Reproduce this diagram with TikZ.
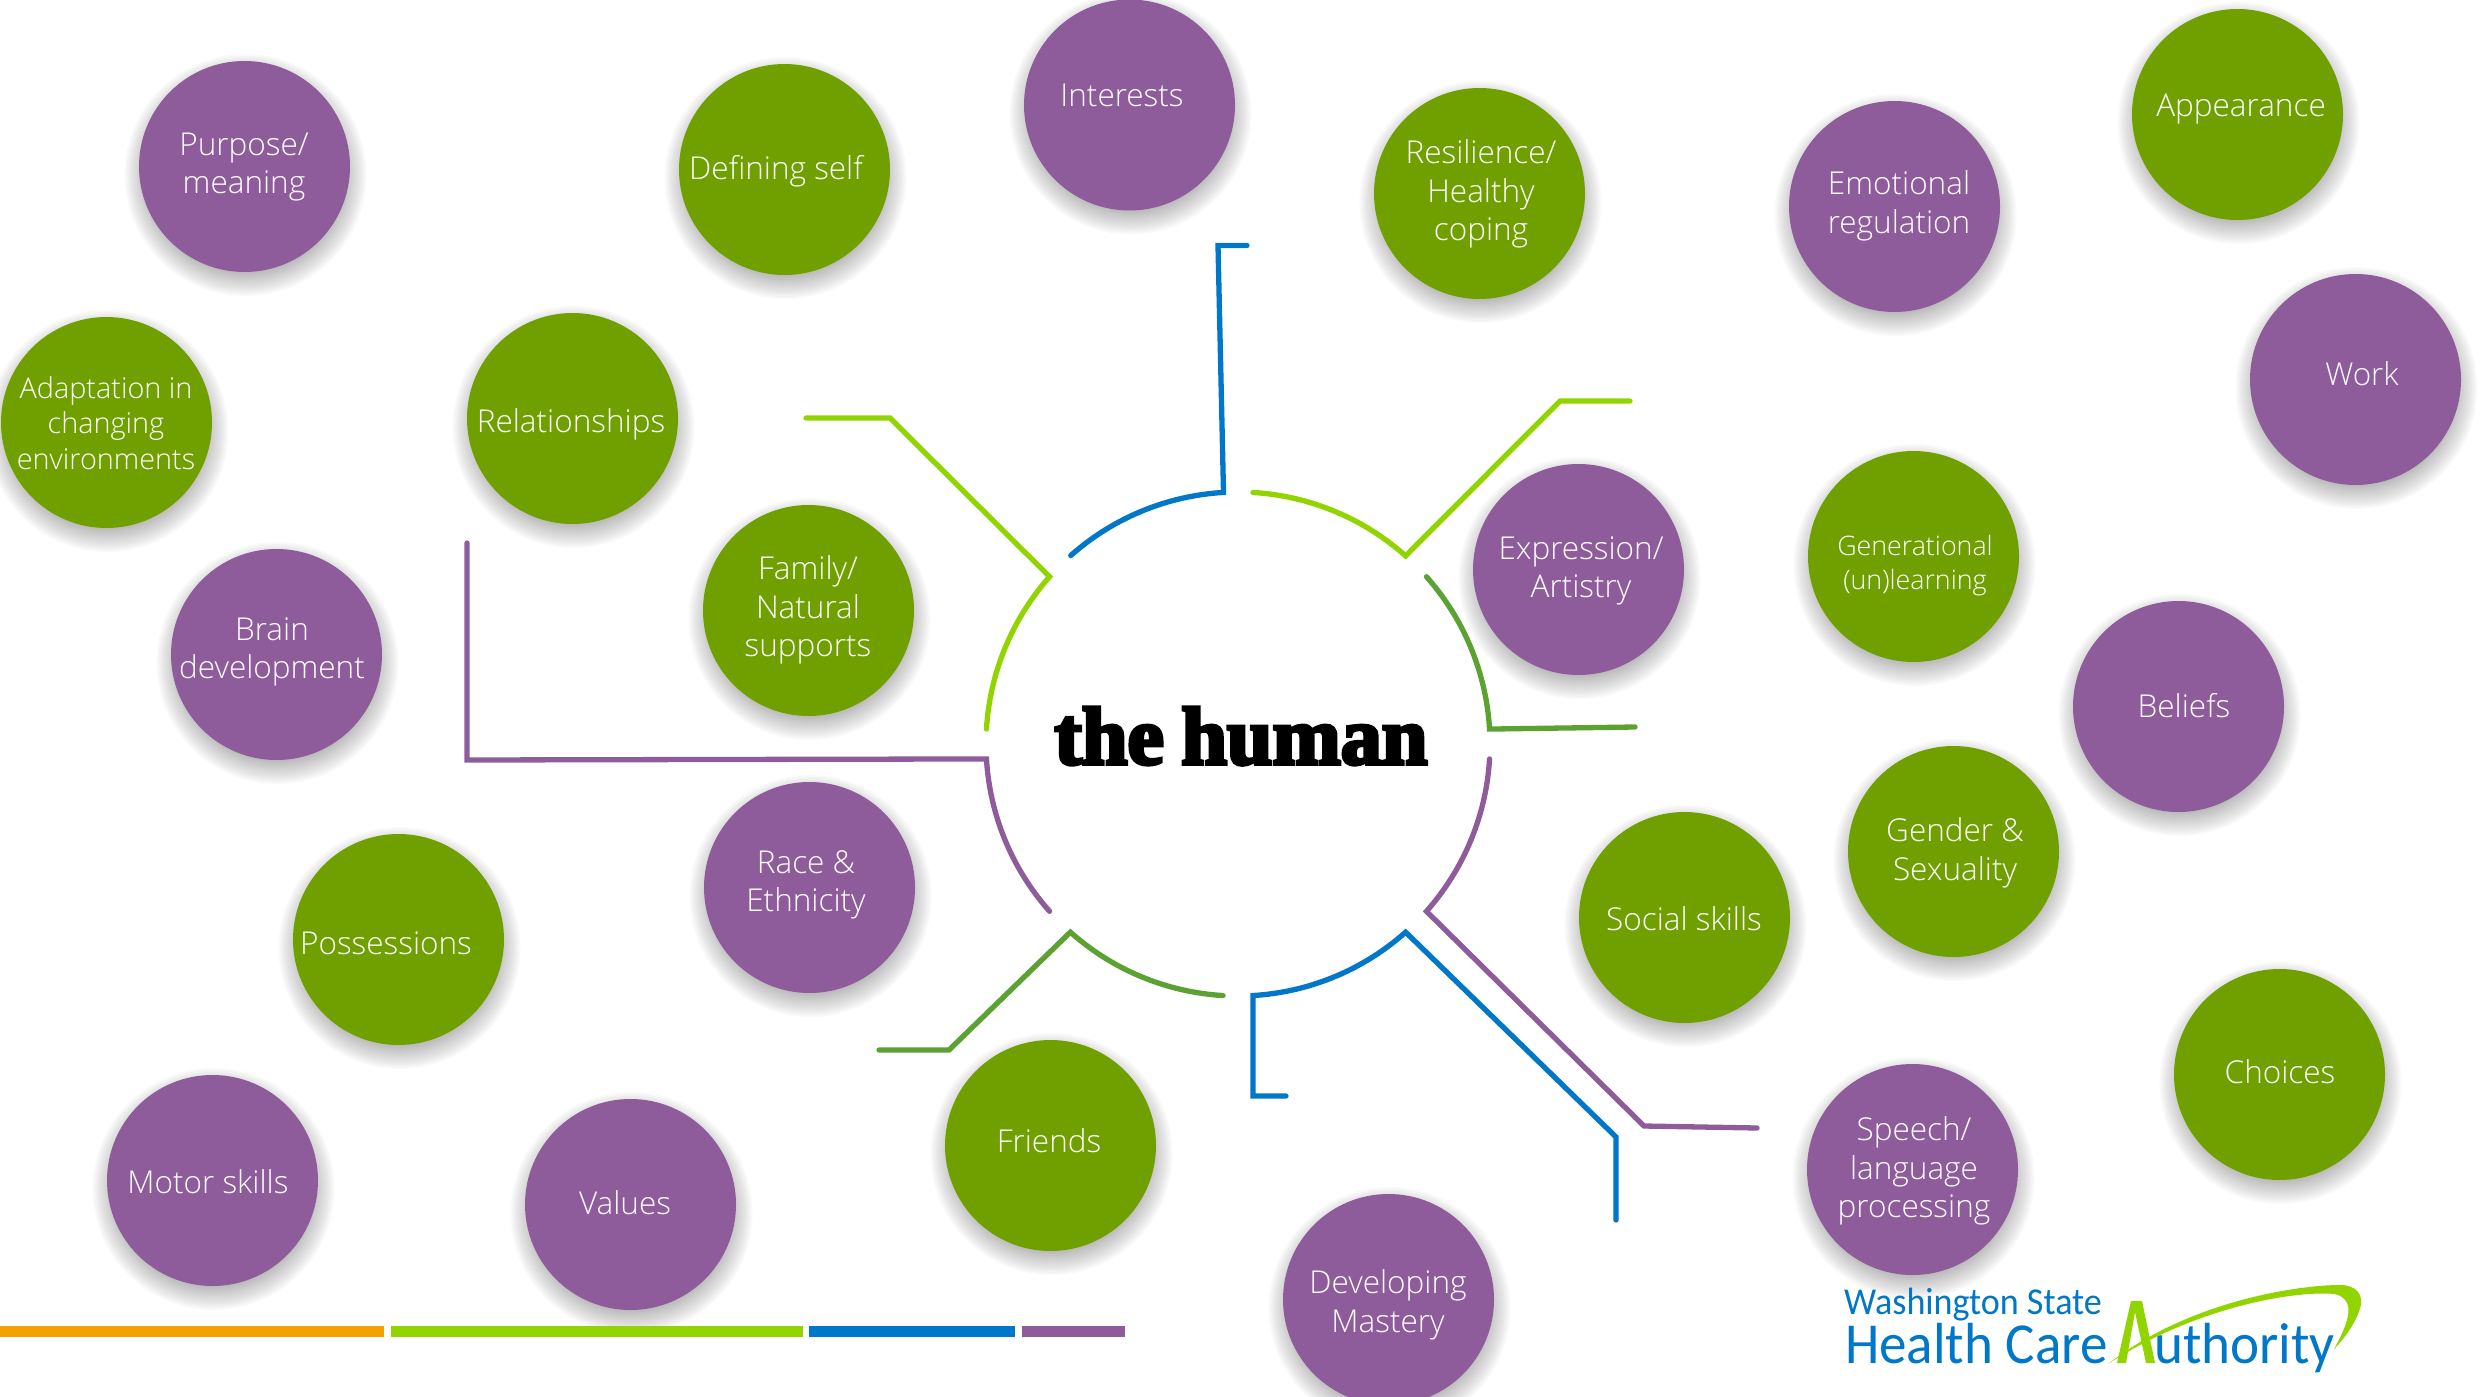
\documentclass[tikz,border=0pt]{standalone}
\usepackage{fontspec}
\setmainfont{Open Sans Light}
\newfontfamily\logofont{Carlito}
\newfontfamily\humanfont[FakeBold=4.5]{Liberation Serif Bold}
\usetikzlibrary{calc}
\definecolor{bgreen}{HTML}{70A000}
\definecolor{bpurple}{HTML}{8F5C9B}
\definecolor{lgreen}{HTML}{92D400}
\definecolor{dgreen}{HTML}{5BA232}
\definecolor{hblue}{HTML}{0077C8}
\definecolor{horange}{HTML}{F2A100}
\tikzset{
  bubble/.style={circle,draw=none,inner sep=0pt,minimum size=211pt,text=white},
  lbl/.style={text=white,align=center,inner sep=0pt,font=\fontsize{31.5}{38.5}\selectfont},
  arm/.style={line width=5.3pt,line cap=round,line join=miter},
  barr/.style={draw=none,minimum height=11pt,inner sep=0pt,anchor=west},
  logotext/.style={text=hblue,inner sep=0pt,anchor=base west,xscale=0.95},
}
\newcommand{\bub}[8][]{%
  \foreach \k in {0,...,17}{%
    \fill[black,opacity=0.024] (#4+1.5,#5+9) circle[radius={121-1.9*\k}];%
  }%
  \node[bubble,fill=#3] (#2) at (#4+0.5,#5+0.5) {};%
  \node[lbl,#1] (#2-t) at (#6,#7) {#8};%
}
\begin{document}
\begin{tikzpicture}[x=1pt,y=-1pt]
\useasboundingbox (0,0) rectangle (2484,1397);
\bub{purpose}{bpurple}{244}{166}{244}{167}{Purpose/\\meaning}
\bub{defining}{bgreen}{784}{169}{776}{171}{Defining self}
\bub{interests}{bpurple}{1129}{104.5}{1122}{95}{Interests}
\bub{resilience}{bgreen}{1479}{193}{1481}{194}{Resilience/\\Healthy\\coping}
\bub{emotional}{bpurple}{1894}{206}{1899}{206}{Emotional\\regulation}
\bub{appearance}{bgreen}{2237}{114}{2241}{109}{Appearance}
\bub{work}{bpurple}{2355}{379}{2362}{374}{Work}
\bub[font=\fontsize{28.8}{35.5}\selectfont]{adaptation}{bgreen}{106}{422}{106}{423}{Adaptation in\\changing\\environments}
\bub{relationships}{bgreen}{572}{418}{571}{424}{Relationships}
\bub{family}{bgreen}{808}{610}{808}{610}{Family/\\Natural\\supports}
\bub{expression}{bpurple}{1578}{569}{1581}{571}{Expression/\\Artistry}
\bub[font=\fontsize{26.8}{34}\selectfont]{generational}{bgreen}{1913}{556}{1915}{566}{Generational\\(un)learning}
\bub{beliefs}{bpurple}{2178}{706}{2184}{706}{Beliefs}
\bub{brain}{bpurple}{276}{654}{272}{652}{Brain\\development}
\bub{race}{bpurple}{809}{887}{806}{885}{Race \&\\Ethnicity}
\bub{gender}{bgreen}{1953}{851}{1955}{853}{Gender \&\\Sexuality}
\bub{social}{bgreen}{1684}{917}{1684}{919}{Social skills}
\bub{possessions}{bgreen}{398}{939}{386}{943}{Possessions}
\bub{friends}{bgreen}{1050}{1145}{1049}{1141}{Friends}
\bub{choices}{bgreen}{2279}{1074}{2280}{1072}{Choices}
\bub{speech}{bpurple}{1912}{1169}{1914}{1171}{Speech/\\language\\processing}
\bub{motor}{bpurple}{212}{1180}{208}{1182}{Motor skills}
\bub{values}{bpurple}{630}{1204}{625}{1203}{Values}
\bub{developing}{bpurple}{1388}{1299}{1388}{1305}{Developing\\Mastery}

\coordinate (hc) at (1238,744);
\node[inner sep=0pt,text=black,anchor=base] (title) at (1241,764) {\humanfont\fontsize{82}{88}\selectfont the\hspace{-3pt} human};

\coordinate (b1) at (1218,245.5); \coordinate (b2) at (1247,245.5);
\draw[arm,hblue] ([shift={(-131.6:252)}]hc) arc[start angle=-131.6,end angle=-93.3,radius=252] -- (b1) -- (b2);
\coordinate (g1) at (1560,401); \coordinate (g2) at (1630,401);
\draw[arm,lgreen] ([shift={(-86.6:252)}]hc) arc[start angle=-86.6,end angle=-48.3,radius=252] -- (g1) -- (g2);
\coordinate (d1) at (1635,727);
\draw[arm,dgreen] ([shift={(-41.6:252)}]hc) arc[start angle=-41.6,end angle=-3.4,radius=252] -- (d1);
\coordinate (p1) at (1644,1126); \coordinate (p2) at (1757,1128);
\draw[arm,bpurple] ([shift={(3.4:252)}]hc) arc[start angle=3.4,end angle=41.6,radius=252] -- (p1) -- (p2);
\coordinate (u1) at (1616,1137); \coordinate (u2) at (1616,1220);
\draw[arm,hblue] (u2) -- (u1) -- ([shift={(48.3:252)}]hc) arc[start angle=48.3,end angle=86.6,radius=252] -- (1253,1096) coordinate (u3) -- (1286,1096) coordinate (u4);
\coordinate (e1) at (949,1050); \coordinate (e2) at (879,1050);
\draw[arm,dgreen] ([shift={(93.4:252)}]hc) arc[start angle=93.4,end angle=131.7,radius=252] -- (e1) -- (e2);
\coordinate (r1) at (467,760); \coordinate (r2) at (467,543);
\draw[arm,bpurple] ([shift={(138.4:252)}]hc) arc[start angle=138.4,end angle=176.6,radius=252] -- (r1) -- (r2);
\coordinate (l1) at (890,418); \coordinate (l2) at (806,418);
\draw[arm,lgreen] ([shift={(183.4:252)}]hc) arc[start angle=183.4,end angle=221.6,radius=252] -- (l1) -- (l2);

\node[barr,fill=horange,minimum width=384pt] (bar1) at (0,1331) {};
\node[barr,fill=lgreen,minimum width=412pt] (bar2) at (391,1331) {};
\node[barr,fill=hblue,minimum width=206pt] (bar3) at (809,1331) {};
\node[barr,fill=bpurple,minimum width=103pt] (bar4) at (1022,1331) {};

\node[logotext] (wa) at (1844,1314) {\logofont\fontsize{38}{40}\selectfont Washington State};
\node[logotext] (hca) at (1845,1363) {\logofont\fontsize{58}{60}\selectfont Health Care};
\node[logotext] (auth) at (2154,1363) {\logofont\fontsize{58}{60}\selectfont uthority};
\fill[lgreen] (2117,1363) -- (2131,1301) -- (2142,1301) -- (2155,1363) -- (2146,1363) -- (2135,1312) -- (2126,1363) -- cycle;
\fill[lgreen] (2108,1364) .. controls (2190,1300) and (2300,1285) .. (2340,1285)
  .. controls (2358,1285) and (2362,1296) .. (2361,1304)
  .. controls (2358,1320) and (2345,1338) .. (2334,1349)
  .. controls (2350,1320) and (2356,1300) .. (2335,1294)
  .. controls (2290,1290) and (2190,1310) .. cycle;
\end{tikzpicture}
\end{document}
